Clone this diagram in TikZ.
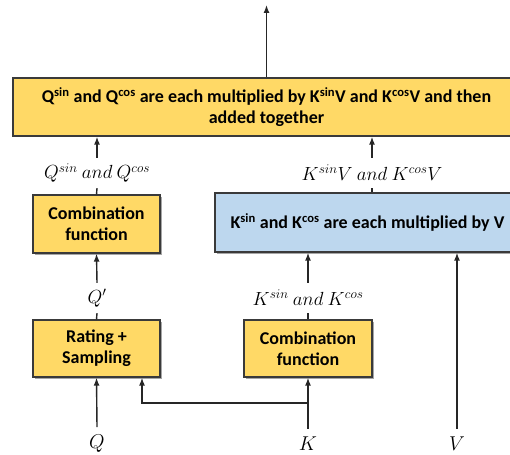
\documentclass[tikz,border=0pt]{standalone}
\usepackage{fix-cm}
\usepackage{fontspec}
\setmainfont{Carlito}
\usetikzlibrary{arrows.meta,shadows}
\definecolor{boxyellow}{HTML}{FFD966}
\definecolor{boxblue}{HTML}{BDD7EE}
\definecolor{boxline}{HTML}{3A3A3A}
\begin{document}
\begin{tikzpicture}[x=1pt,y=-1pt,
  box/.style={draw=boxline,line width=1.3pt,fill=boxyellow,align=center,
    font=\fontsize{18}{21}\selectfont\bfseries,inner sep=0pt,
    drop shadow={shadow xshift=1.5pt,shadow yshift=-1.5pt,opacity=0.35,fill=black}},
  bluebox/.style={box,fill=boxblue},
  lab/.style={fill=white,inner sep=0pt,minimum height=30pt,font=\fontsize{19}{22}\selectfont},
  io/.style={inner sep=0pt,font=\fontsize{20}{22}\selectfont},
  arr/.style={line width=1.4pt,draw=black!85,-{Latex[length=8pt,width=6pt]}},
  ln/.style={line width=1.4pt,draw=black!85}]
\useasboundingbox (0,0) rectangle (510,454);
\clip (0,0) rectangle (510,454);
\fill[white] (0,0) rectangle (510,454);
% boxes
\node[box,minimum width=507pt,minimum height=58pt] (top) at (266.5,107)
  {Q\textsuperscript{sin} and Q\textsuperscript{cos} are each multiplied by K\textsuperscript{sin}V and K\textsuperscript{cos}V and then\\ added together};
\node[box,minimum width=127pt,minimum height=58pt] (lcomb) at (96.5,224) {Combination\\function};
\node[bluebox,minimum width=305pt,minimum height=59pt] (blue) at (367.5,222.5)
  {K\textsuperscript{sin} and K\textsuperscript{cos} are each multiplied by V};
\node[box,minimum width=127pt,minimum height=57pt] (rate) at (96.5,348.5) {Rating +\\Sampling};
\node[box,minimum width=128pt,minimum height=57pt] (rcomb) at (308,348.5) {Combination\\function};
% labels
\node[lab] (qlab) at (97,173) {$Q^{sin}\ and\ Q^{cos}$};
\node[lab] (kvlab) at (372,173) {$K^{sin}V\ and\ K^{cos}V$};
\node[lab] (qp) at (97,298) {$Q'$};
\node[lab] (klab) at (308,298) {$K^{sin}\ and\ K^{cos}$};
\node[io] (Q) at (97,444) {$Q$};
\node[io] (K) at (308,444) {$K$};
\node[io] (V) at (457,444) {$V$};
\coordinate (out) at (266.5,5);
\coordinate (kb) at (308,403);
% connectors
\draw[arr] (top.north -| out) -- (out);
\draw[arr] (qlab.north) -- (qlab.north |- top.south);
\draw[ln] (lcomb.north) -- (qlab.south);
\draw[arr] (kvlab.north) -- (kvlab.north |- top.south);
\draw[ln] (kvlab.south |- blue.north) -- (kvlab.south);
\draw[arr] (qp.north) -- (lcomb.south);
\draw[ln] (rate.north) -- (qp.south);
\draw[arr] (klab.north) -- (klab.north |- blue.south);
\draw[ln] (rcomb.north) -- (klab.south);
\draw[arr] ([yshift=8pt]V.north) -- (V.north |- blue.south);
\draw[arr] ([yshift=8pt]Q.north) -- (rate.south);
\draw[arr] ([yshift=8pt]K.north) -- (rcomb.south);
\draw[arr] (kb) -| ([xshift=45.5pt]rate.south);
\end{tikzpicture}
\end{document}
